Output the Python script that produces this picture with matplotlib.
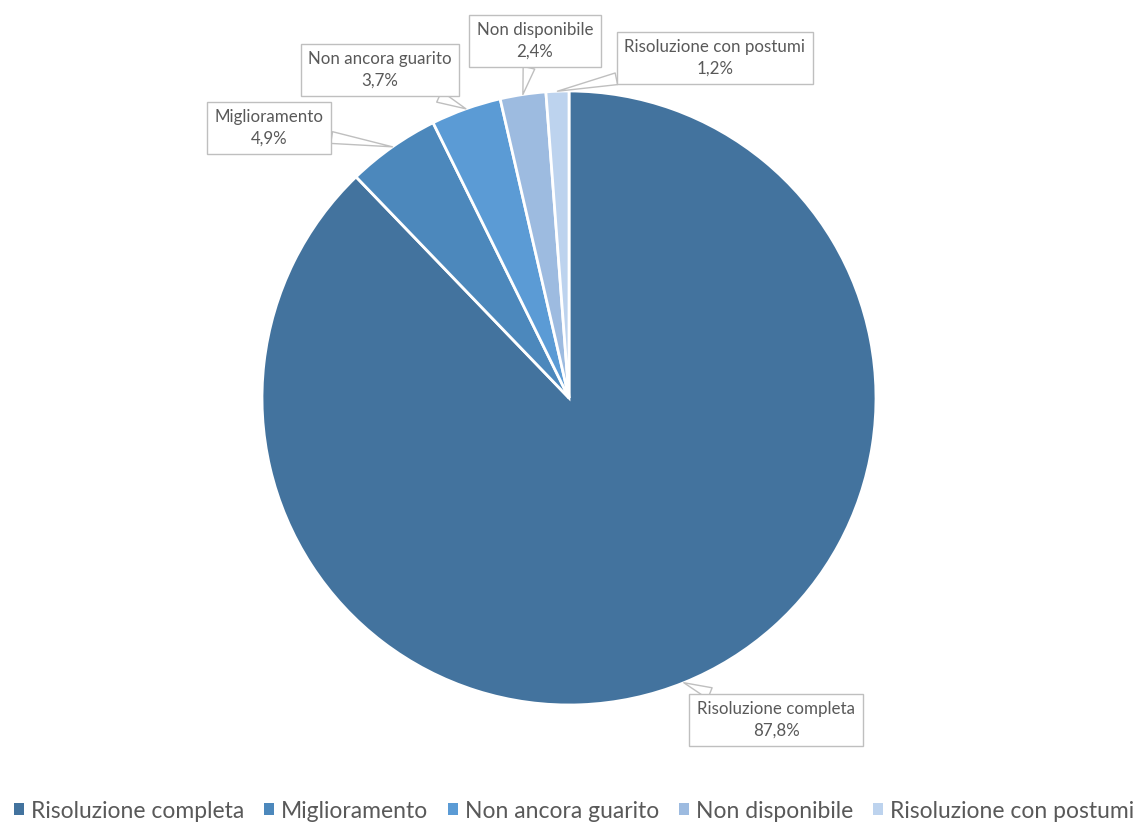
import matplotlib.pyplot as plt
from matplotlib.patches import Patch
import numpy as np

plt.rcParams['font.family'] = ['Lato', 'DejaVu Sans']

# esiti clinici
categorie = ['Risoluzione completa', 'Miglioramento', 'Non ancora guarito',
             'Non disponibile', 'Risoluzione con postumi']
percentuali = [87.8, 4.9, 3.7, 2.4, 1.2]
colori = ['#43739E', '#4C88BC', '#5B9BD5', '#9DBBE0', '#BDD3EE']

# posizione delle etichette (centro del riquadro, in pixel)
etichette_px = [(776, 720), (269, 128), (380, 70), (535, 41), (715, 58)]

W, H = 1139, 824
cx, cy, r = 569, 398, 307

fig = plt.figure(figsize=(W / 100, H / 100), dpi=100)
ax = fig.add_axes([(cx - r) / W, (H - cy - r) / H, 2 * r / W, 2 * r / H])

wedges, _ = ax.pie(percentuali, colors=colori, startangle=90, counterclock=False,
                   wedgeprops=dict(edgecolor='white', linewidth=2))
ax.set_xlim(-1, 1)
ax.set_ylim(-1, 1)
ax.set_aspect('equal')
ax.axis('off')

angoli = 90 - (np.cumsum(percentuali) - np.array(percentuali) / 2) * 3.6
for i, (nome, val) in enumerate(zip(categorie, percentuali)):
    a = np.radians(angoli[i])
    punta = (np.cos(a), np.sin(a))
    px, py = etichette_px[i]
    pos = ((px - cx) / r, (cy - py) / r)
    testo = f'{nome}\n{val:.1f}%'.replace('.', ',')
    ax.annotate(testo, xy=punta, xytext=pos, ha='center', va='center',
                fontsize=12.2, color='#595959', linespacing=1.4,
                annotation_clip=False,
                bbox=dict(boxstyle='square,pad=0.45', fc='white', ec='#BFBFBF', lw=1),
                arrowprops=dict(arrowstyle='wedge,tail_width=0.7,shrink_factor=0.5',
                                fc='white', ec='#BFBFBF', lw=1, shrinkA=0, shrinkB=0))

handles = [Patch(facecolor=c, edgecolor='none') for c in colori]
fig.legend(handles, categorie, loc='lower center', bbox_to_anchor=(0.504, -0.022),
           ncol=5, frameon=False, fontsize=16.5, handlelength=0.45, handleheight=0.45,
           handletextpad=0.3, columnspacing=0.85, labelcolor='#595959')

fig.savefig('out.png', dpi=100)
